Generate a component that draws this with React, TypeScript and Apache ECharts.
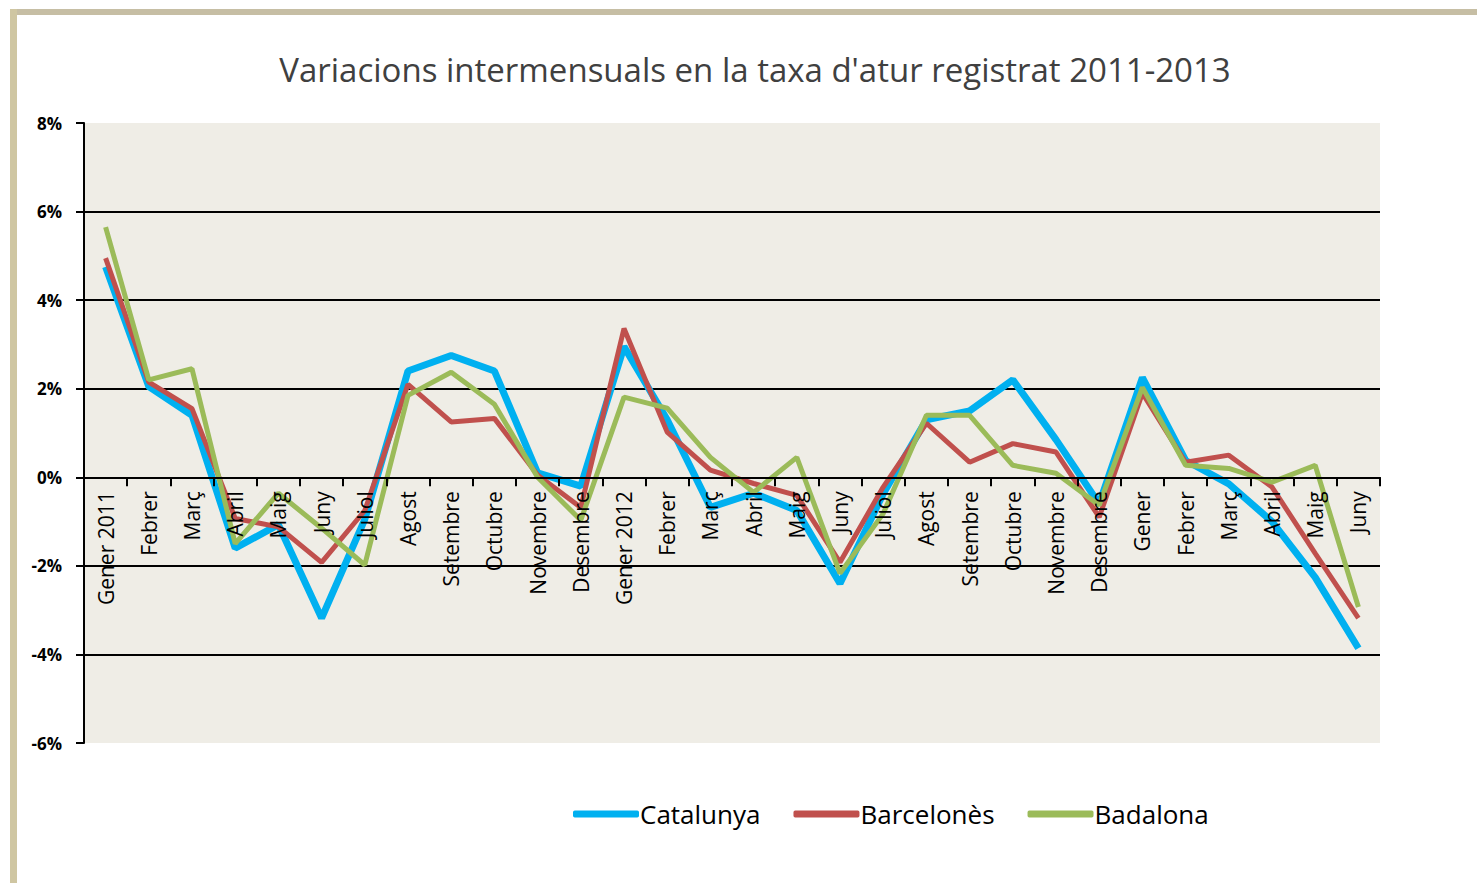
import React, { useEffect, useRef } from "react";
import * as echarts from "echarts";

const months: string[] = [
  "Gener 2011", "Febrer", "Març", "Abril", "Maig", "Juny", "Juliol", "Agost", "Setembre", "Octubre", "Novembre", "Desembre",
  "Gener 2012", "Febrer", "Març", "Abril", "Maig", "Juny", "Juliol", "Agost", "Setembre", "Octubre", "Novembre", "Desembre",
  "Gener", "Febrer", "Març", "Abril", "Maig", "Juny",
];

const catalunya: number[] = [
  4.75, 2.05, 1.4, -1.6, -1.07, -3.18, -0.95, 2.4, 2.75, 2.4, 0.1, -0.2,
  2.95, 1.3, -0.68, -0.36, -0.75, -2.4, -0.37, 1.3, 1.5, 2.2, 0.85, -0.6,
  2.25, 0.38, -0.15, -1.0, -2.26, -3.86,
];

const barcelones: number[] = [
  4.95, 2.15, 1.55, -0.93, -1.12, -1.92, -0.75, 2.1, 1.25, 1.33, 0.05, -0.68,
  3.36, 1.02, 0.16, -0.14, -0.41, -1.92, -0.22, 1.22, 0.34, 0.76, 0.57, -0.9,
  1.9, 0.34, 0.5, -0.22, -1.72, -3.18,
];

const badalona: number[] = [
  5.65, 2.2, 2.45, -1.5, -0.36, -1.15, -1.98, 1.85, 2.37, 1.65, 0.0, -0.97,
  1.81, 1.56, 0.45, -0.34, 0.45, -2.17, -0.82, 1.4, 1.4, 0.27, 0.09, -0.63,
  2.03, 0.27, 0.2, -0.11, 0.27, -2.93,
];

const seriesNames: string[] = ["Catalunya", "Barcelonès", "Badalona"];
const seriesColors: string[] = ["#00B0F0", "#C0504D", "#9BBB59"];
const seriesWidths: number[] = [7, 5, 5];

const yMin = -6;
const yMax = 8;
const yStep = 2;

const titleText = "Variacions intermensuals en la taxa d'atur registrat 2011-2013";

export default function App() {
  const ref = useRef<HTMLDivElement>(null);

  useEffect(() => {
    if (!ref.current) return;
    const chart = echarts.init(ref.current, undefined, { renderer: "svg" });
    const data = [catalunya, barcelones, badalona];
    const gridTop = 123;
    const gridHeight = 620;
    // distance from the bottom of the grid to the zero line
    const zeroOffset = (gridHeight * (0 - yMin)) / (yMax - yMin);
    const option: any = {
      animation: false,
      backgroundColor: "#FFFFFF",
      title: {
        text: titleText,
        left: 750,
        textAlign: "center",
        top: 48,
        textStyle: {
          fontFamily: "Open Sans",
          fontWeight: "normal",
          fontSize: 33,
          color: "#404040",
        },
      },
      graphic: [
        { type: "rect", shape: { x: 10, y: 9, width: 1467, height: 6 }, style: { fill: "#C6BEA4" }, z: 10 },
        { type: "rect", shape: { x: 10, y: 9, width: 7, height: 874 }, style: { fill: "#CFC6A2" }, z: 10 },
      ],
      legend: {
        left: 568,
        top: 796,
        itemGap: 33,
        itemWidth: 66,
        itemHeight: 7,
        icon: "roundRect",
        textStyle: { fontFamily: "Open Sans", fontSize: 26, color: "#000", padding: [0, 0, 0, -4] },
        data: seriesNames,
      },
      grid: {
        left: 84,
        top: gridTop,
        width: 1296,
        height: gridHeight,
        show: true,
        backgroundColor: "#EFEDE6",
        borderWidth: 0,
      },
      xAxis: {
        type: "category",
        data: months,
        boundaryGap: true,
        position: "bottom",
        offset: -zeroOffset,
        axisLine: { onZero: false, lineStyle: { color: "#000", width: 2 } },
        axisTick: { show: true, interval: 0, length: 9, lineStyle: { color: "#000", width: 2 } },
        axisLabel: {
          interval: 0,
          rotate: 90,
          margin: 14,
          fontFamily: "Open Sans",
          fontSize: 21,
          color: "#000",
        },
        splitLine: { show: false },
        z: 20,
      },
      yAxis: {
        type: "value",
        min: yMin,
        max: yMax,
        interval: yStep,
        axisLine: { show: true, lineStyle: { color: "#000", width: 2 } },
        axisTick: { show: true, length: 8, lineStyle: { color: "#000", width: 2 } },
        axisLabel: {
          margin: 22,
          formatter: (v: number) => `${v}%`,
          fontFamily: "Open Sans",
          fontWeight: "bold",
          fontSize: 17,
          color: "#000",
        },
        splitLine: { show: true, showMinLine: false, showMaxLine: false, lineStyle: { color: "#000", width: 2 } },
      },
      series: seriesNames.map((name, i) => ({
        name,
        type: "line",
        data: data[i],
        symbol: "none",
        color: seriesColors[i],
        lineStyle: { color: seriesColors[i], width: seriesWidths[i] },
        z: 10 + i,
      })),
    };
    chart.setOption(option);
    return () => chart.dispose();
  }, []);

  return (
    <div
      ref={ref}
      style={{ position: "fixed", left: 0, top: 0, width: 1477, height: 883 }}
    />
  );
}
